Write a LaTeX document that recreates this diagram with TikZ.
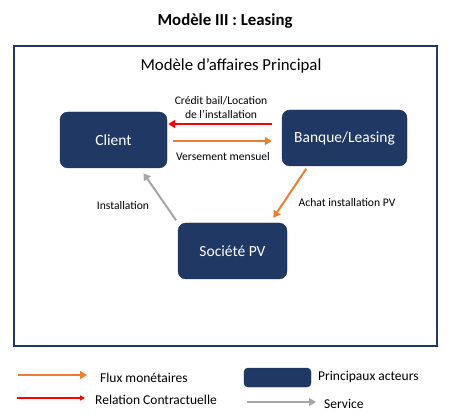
\documentclass[tikz,border=0pt]{standalone}
\usepackage{fontspec}
\setmainfont{Carlito}
\usetikzlibrary{arrows.meta}
\definecolor{navy}{RGB}{32,56,100}
\definecolor{orng}{RGB}{237,125,49}
\definecolor{gry}{RGB}{166,166,166}
\begin{document}
\begin{tikzpicture}[x=1pt,y=-1pt,
  actor/.style={fill=navy,draw=navy!80!black,rounded corners=8pt,text=white,font=\fontsize{15.5}{18}\selectfont,inner sep=0pt},
  lbl/.style={font=\fontsize{11.6}{14}\selectfont,inner sep=0pt,align=center},
  leg/.style={font=\fontsize{13.5}{16}\selectfont,inner sep=0pt,anchor=west},
  flow/.style={line width=2pt,-{Triangle[length=7pt,width=8pt]}},
  money/.style={flow,draw=orng},
  contract/.style={flow,draw=red},
  service/.style={flow,draw=gry}]
\useasboundingbox (0,0) rectangle (450,414);
\node[font=\fontsize{16.8}{20}\selectfont\bfseries,inner sep=0pt] (title) at (225,21) {Modèle III : Leasing};
\node[draw=navy,line width=2pt,minimum width=423pt,minimum height=300pt,anchor=north west,inner sep=0pt] (frame) at (13,45) {};
\node[font=\fontsize{16.8}{20}\selectfont,inner sep=0pt] (sub) at (231,66) {Modèle d’affaires Principal};
\node[actor,minimum width=107pt,minimum height=56pt] (client) at (113.5,140) {Client};
\node[actor,minimum width=125pt,minimum height=56pt] (bank) at (344.5,138) {Banque/Leasing};
\node[actor,minimum width=109pt,minimum height=56pt] (soc) at (232.5,251) {Société PV};
\draw[contract,shorten <=10pt,shorten >=1pt] ([yshift=14pt]bank.west) -- ([yshift=14pt]bank.west -| client.east);
\draw[money,shorten <=6pt,shorten >=10pt] ([yshift=-1pt]client.east) -- ([yshift=-1pt]client.east -| bank.west);
\node[lbl] (l1) at (221,108) {Crédit bail/Location\\de l’installation};
\node[lbl] (l2) at (223,157) {Versement mensuel};
\draw[money,shorten <=3pt,shorten >=6pt] ([xshift=-36.5pt]bank.south) -- ([xshift=37.5pt]soc.north);
\node[lbl] (l3) at (347,203) {Achat installation PV};
\draw[service,shorten <=3pt,shorten >=6pt] (soc.north west) -- ([xshift=26.5pt]client.south);
\node[lbl] (l4) at (123,206) {Installation};
% legend
\coordinate (o1) at (18,375); \coordinate (o2) at (87,375);
\draw[money,line width=2pt] (o1) -- (o2);
\node[leg] (t1) at (100,378) {Flux monétaires};
\coordinate (r1) at (17,398); \coordinate (r2) at (85,398);
\draw[contract,line width=1.5pt,-{Triangle[length=5pt,width=5pt]}] (r1) -- (r2);
\node[leg] (t2) at (95,400) {Relation Contractuelle};
\node[actor,minimum width=67pt,minimum height=19pt,rounded corners=4pt] (box) at (277.5,377.5) {};
\node[leg] (t3) at (318,377) {Principaux acteurs};
\coordinate (g1) at (247,402); \coordinate (g2) at (316,402);
\draw[service] (g1) -- (g2);
\node[leg] (t4) at (324,404) {Service};
\end{tikzpicture}
\end{document}
